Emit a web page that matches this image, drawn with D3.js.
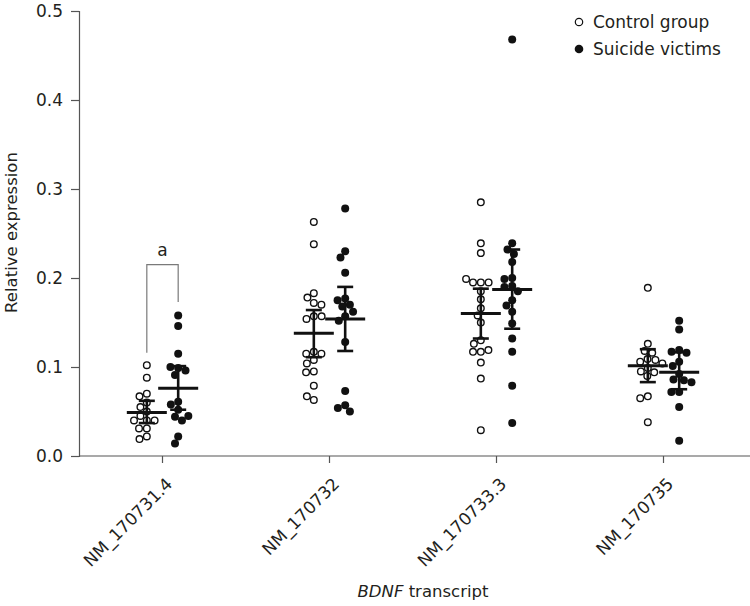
<!DOCTYPE html>
<html>
<head>
<meta charset="utf-8">
<script src="https://cdn.jsdelivr.net/npm/d3@7"></script>
<style>
  html, body { margin: 0; padding: 0; background: #fff; }
  svg { display: block; }
  text { font-family: "DejaVu Sans", Verdana, sans-serif; fill: #231f20; }
</style>
</head>
<body>
<svg id="chart" width="750" height="606"></svg>
<script>
// ---- Data ----
const transcripts = ["NM_170731.4", "NM_170732", "NM_170733.3", "NM_170735"];
const seriesNames = ["Control group", "Suicide victims"];
const yTicks = [0.0, 0.1, 0.2, 0.3, 0.4, 0.5];

const control_170731 = [0.102, 0.088, 0.070, 0.067, 0.060, 0.055, 0.050, 0.045, 0.040, 0.040, 0.040, 0.031, 0.031, 0.022, 0.019];
const control_170732 = [0.263, 0.238, 0.183, 0.178, 0.172, 0.170, 0.157, 0.154, 0.157, 0.117, 0.115, 0.115, 0.108, 0.104, 0.095, 0.094, 0.079, 0.063, 0.067];
const control_170733 = [0.285, 0.239, 0.228, 0.195, 0.195, 0.195, 0.199, 0.185, 0.176, 0.166, 0.158, 0.150, 0.130, 0.126, 0.117, 0.117, 0.119, 0.105, 0.087, 0.029];
const control_170735 = [0.189, 0.126, 0.118, 0.116, 0.109, 0.108, 0.106, 0.104, 0.099, 0.095, 0.094, 0.090, 0.067, 0.065, 0.038];

const suicide_170731 = [0.158, 0.146, 0.115, 0.099, 0.100, 0.096, 0.091, 0.061, 0.058, 0.052, 0.044, 0.040, 0.045, 0.022, 0.014];
const suicide_170732 = [0.278, 0.230, 0.223, 0.206, 0.177, 0.175, 0.170, 0.168, 0.162, 0.157, 0.152, 0.128, 0.073, 0.057, 0.054, 0.050];
const suicide_170733 = [0.468, 0.239, 0.232, 0.227, 0.218, 0.200, 0.199, 0.191, 0.190, 0.185, 0.175, 0.169, 0.162, 0.149, 0.132, 0.117, 0.079, 0.037];
const suicide_170735 = [0.152, 0.142, 0.119, 0.117, 0.116, 0.106, 0.101, 0.092, 0.086, 0.085, 0.083, 0.072, 0.072, 0.055, 0.017];

const controlMean = [0.049, 0.138, 0.160, 0.1015];
const controlLow  = [0.037, 0.111, 0.132, 0.083];
const controlHigh = [0.062, 0.164, 0.188, 0.120];
const suicideMean = [0.076, 0.154, 0.187, 0.094];
const suicideLow  = [0.052, 0.118, 0.143, 0.075];
const suicideHigh = [0.101, 0.190, 0.232, 0.1165];

// significance bracket for NM_170731.4
const bracketTop = 0.215, bracketLeftEnd = 0.116, bracketRightEnd = 0.173;
const bracketLabel = "a";

// ---- Build ----
const controlVals = [control_170731, control_170732, control_170733, control_170735];
const suicideVals = [suicide_170731, suicide_170732, suicide_170733, suicide_170735];

const svg = d3.select("#chart");
const W = 750, H = 606;
const mLeft = 79, mBottom = 456, mTop = 11, mRight = 747;

const y = d3.scaleLinear().domain([0, 0.5]).range([mBottom, mTop]);
const x = d3.scaleBand().domain(transcripts).range([mLeft, mRight]).padding(0);
const sub = d3.scaleBand().domain(seriesNames).range([-34.5, 34.5]).paddingInner(0.0).paddingOuter(0.1);
const subCenter = s => sub(s) + sub.bandwidth() / 2;
const cx = (t, s) => x(t) + x.bandwidth() / 2 + subCenter(s);

const ink = "#111";
const axisCol = "#555";

// Y axis
const yAxis = d3.axisLeft(y).tickValues(yTicks).tickFormat(d3.format(".1f")).tickSize(8).tickPadding(8);
const gy = svg.append("g").attr("transform", `translate(${mLeft},0)`).call(yAxis);
gy.select(".domain").attr("stroke", axisCol).attr("stroke-width", 1.2);
gy.selectAll(".tick line").attr("stroke", axisCol).attr("stroke-width", 1.2);
gy.selectAll(".tick text").style("font-size", "17px").style("font-family", '"DejaVu Sans", sans-serif').attr("fill", "#231f20");

// X axis
const xAxis = d3.axisBottom(x).tickSize(7).tickSizeOuter(0);
const gx = svg.append("g").attr("transform", `translate(0,${mBottom})`).call(xAxis);
gx.select(".domain").attr("stroke", axisCol).attr("stroke-width", 1.2).attr("d", `M${mLeft},0H${W}`);
gx.selectAll(".tick line").attr("stroke", axisCol).attr("stroke-width", 1.2);
gx.selectAll(".tick text")
  .style("font-size", "17px").style("font-family", '"DejaVu Sans", sans-serif')
  .attr("fill", "#231f20")
  .attr("text-anchor", "end")
  .attr("transform", "translate(11,29) rotate(-45)")
  .attr("x", 0).attr("y", 0).attr("dy", 0);

// Axis titles
svg.append("text")
  .attr("transform", `translate(17,232.5) rotate(-90)`)
  .attr("text-anchor", "middle")
  .style("font-size", "16.5px")
  .text("Relative expression");

const xt = svg.append("text")
  .attr("x", 423).attr("y", 597)
  .attr("text-anchor", "middle")
  .style("font-size", "16.5px");
xt.append("tspan").style("font-style", "italic").text("BDNF");
xt.append("tspan").text(" transcript");

// beeswarm dodge (deterministic)
function dodge(vals, sep) {
  const placed = [];
  const out = new Array(vals.length);
  vals.forEach((v, i) => {
    const yi = y(v);
    const near = placed.filter(p => Math.abs(p.y - yi) < sep);
    const cands = [0];
    near.forEach(p => {
      const dx = Math.sqrt(sep * sep - (p.y - yi) * (p.y - yi));
      cands.push(p.x - dx, p.x + dx);
    });
    cands.sort((a, b) => Math.abs(a) - Math.abs(b) || a - b);
    let chosen = 0;
    for (const c of cands) {
      if (near.every(p => (p.x - c) ** 2 + (p.y - yi) ** 2 >= sep * sep - 0.01)) { chosen = c; break; }
    }
    placed.push({ x: chosen, y: yi });
    out[i] = chosen;
  });
  return out;
}

const sep = 7.8;
transcripts.forEach((t, gi) => {
  [[controlVals[gi], seriesNames[0]], [suicideVals[gi], seriesNames[1]]].forEach(([vals, s], si) => {
    const offs = dodge(vals, sep);
    const c0 = cx(t, s);
    svg.append("g").selectAll("circle").data(vals).join("circle")
      .attr("cx", (d, i) => c0 + offs[i])
      .attr("cy", d => y(d))
      .attr("r", si === 0 ? 3.3 : 4)
      .attr("fill", si === 0 ? "#fff" : ink)
      .attr("stroke", ink)
      .attr("stroke-width", si === 0 ? 1.4 : 0);
  });
});

// mean & error bars
function drawStats(means, lows, highs, s) {
  const g = svg.append("g").attr("stroke", ink).attr("fill", "none");
  transcripts.forEach((t, i) => {
    const c0 = cx(t, s);
    g.append("line").attr("x1", c0).attr("x2", c0).attr("y1", y(lows[i])).attr("y2", y(highs[i])).attr("stroke-width", 2.6);
    g.append("line").attr("x1", c0 - 8).attr("x2", c0 + 8).attr("y1", y(lows[i])).attr("y2", y(lows[i])).attr("stroke-width", 2.6);
    g.append("line").attr("x1", c0 - 8).attr("x2", c0 + 8).attr("y1", y(highs[i])).attr("y2", y(highs[i])).attr("stroke-width", 2.6);
    g.append("line").attr("x1", c0 - 20).attr("x2", c0 + 20).attr("y1", y(means[i])).attr("y2", y(means[i])).attr("stroke-width", 3);
  });
}
drawStats(controlMean, controlLow, controlHigh, seriesNames[0]);
drawStats(suicideMean, suicideLow, suicideHigh, seriesNames[1]);

// bracket
const bx1 = cx(transcripts[0], seriesNames[0]), bx2 = cx(transcripts[0], seriesNames[1]);
svg.append("path")
  .attr("d", `M${bx1},${y(bracketLeftEnd)}V${y(bracketTop)}H${bx2}V${y(bracketRightEnd)}`)
  .attr("fill", "none").attr("stroke", "#7a7a7a").attr("stroke-width", 1.2);
svg.append("text")
  .attr("x", (bx1 + bx2) / 2).attr("y", y(bracketTop) - 9)
  .attr("text-anchor", "middle").style("font-size", "17px")
  .text(bracketLabel);

// legend
const lg = svg.append("g");
seriesNames.forEach((s, i) => {
  const ly = 22 + i * 27;
  lg.append("circle").attr("cx", 579).attr("cy", ly).attr("r", i === 0 ? 3.7 : 4.3)
    .attr("fill", i === 0 ? "#fff" : ink).attr("stroke", ink).attr("stroke-width", i === 0 ? 1.2 : 0);
  lg.append("text").attr("x", 593).attr("y", ly).attr("dy", "0.36em")
    .style("font-size", "17px").text(s);
});
</script>
</body>
</html>
